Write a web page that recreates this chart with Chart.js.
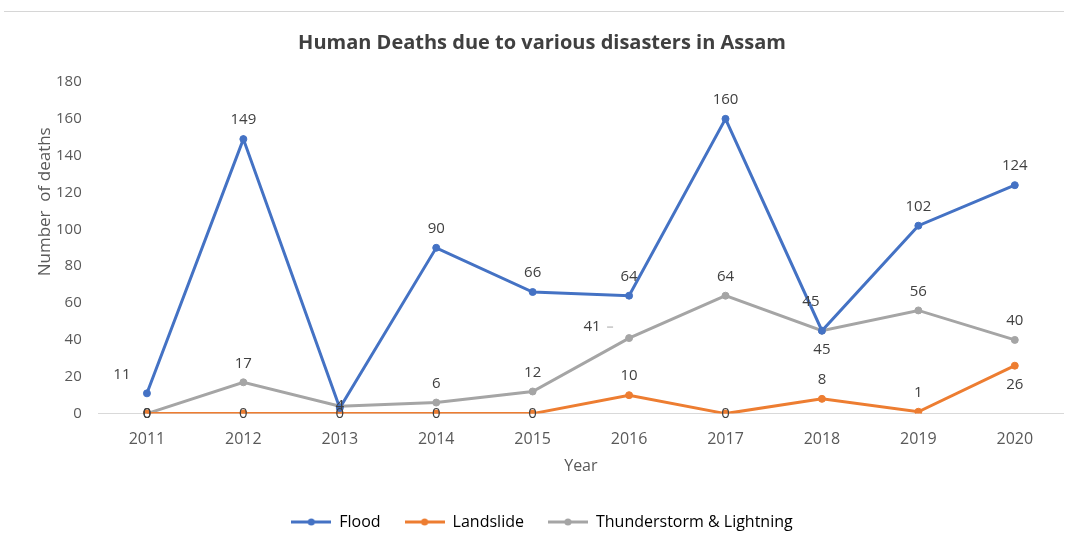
<!DOCTYPE html>
<html>
<head>
<meta charset="utf-8">
<script src="https://cdn.jsdelivr.net/npm/chart.js@4"></script>
<style>
  html, body { margin: 0; padding: 0; background: #fff; }
  #wrap { width: 1068px; height: 542px; position: relative; }
  #wrap:before { content: ''; position: absolute; left: 4px; right: 4px; top: 11px; border-top: 1px solid #d6d6d6; }
</style>
</head>
<body>
<div id="wrap"><canvas id="chart" width="1068" height="542"></canvas></div>
<script>
var years = ['2011', '2012', '2013', '2014', '2015', '2016', '2017', '2018', '2019', '2020'];
var flood = [11, 149, 3, 90, 66, 64, 160, 45, 102, 124];
var landslide = [0, 0, 0, 0, 0, 10, 0, 8, 1, 26];
var thunder = [0, 17, 4, 6, 12, 41, 64, 45, 56, 40];
var yTicks = [0, 20, 40, 60, 80, 100, 120, 140, 160, 180];

// where each value label sits relative to its point
var floodLabelPos = ['left', 'above', 'none', 'above', 'above', 'above', 'above', 'aboveLeft', 'above', 'above'];
var landLabelPos = ['center', 'center', 'center', 'center', 'center', 'above', 'center', 'above', 'above', 'below'];
var thunderLabelPos = ['center', 'above', 'center', 'above', 'above', 'farLeft', 'above', 'below', 'above', 'above'];

var FONT = '"Open Sans", "Noto Sans", sans-serif';

function legendIcon(color) {
    var c = document.createElement('canvas');
    c.width = 40; c.height = 10;
    var g = c.getContext('2d');
    g.strokeStyle = color; g.lineWidth = 3;
    g.beginPath(); g.moveTo(0, 5); g.lineTo(40, 5); g.stroke();
    g.fillStyle = color;
    g.beginPath(); g.arc(20, 5, 3.5, 0, Math.PI * 2); g.fill();
    return c;
}

var valueLabels = {
    id: 'valueLabels',
    afterDatasetsDraw: function (chart) {
        var ctx = chart.ctx;
        ctx.save();
        ctx.font = '15px ' + FONT;
        ctx.fillStyle = '#404040';
        ctx.textAlign = 'center';
        ctx.textBaseline = 'middle';
        chart.data.datasets.forEach(function (ds, i) {
            var meta = chart.getDatasetMeta(i);
            meta.data.forEach(function (pt, j) {
                var pos = ds.labelPos[j];
                if (pos === 'none') return;
                var x = pt.x, y = pt.y;
                if (pos === 'above') y -= 19;
                else if (pos === 'below') y += 19;
                else if (pos === 'aboveLeft') { x -= 11; y -= 29; }
                else if (pos === 'left') { x -= 25; y -= 19; }
                else if (pos === 'farLeft') {
                    x -= 37; y -= 11;
                    // small leader line like the original
                    ctx.strokeStyle = '#a6a6a6';
                    ctx.lineWidth = 1;
                    ctx.beginPath(); ctx.moveTo(x + 15, y); ctx.lineTo(x + 21, y); ctx.stroke();
                }
                ctx.fillText(String(ds.data[j]), x, y);
            });
        });
        ctx.restore();
    }
};

// y axis title, sitting a bit above the middle of the axis as in the original
var yTitle = {
    id: 'yTitle',
    afterDraw: function (chart) {
        var ctx = chart.ctx;
        var area = chart.chartArea;
        ctx.save();
        ctx.translate(45, (area.top + area.bottom) / 2 - 46);
        ctx.rotate(-Math.PI / 2);
        ctx.font = '17px ' + FONT;
        ctx.fillStyle = '#595959';
        ctx.textAlign = 'center';
        ctx.textBaseline = 'middle';
        ctx.fillText('Number  of deaths', 0, 0);
        ctx.restore();
    }
};

var ctx = document.getElementById('chart').getContext('2d');
var chart = new Chart(ctx, {
    type: 'line',
    data: {
        labels: years,
        datasets: [{
            label: 'Flood',
            data: flood,
            labelPos: floodLabelPos,
            borderColor: '#4472C4',
            backgroundColor: '#4472C4',
            borderWidth: 3,
            pointRadius: 3.5,
            pointBorderWidth: 1,
            tension: 0
        }, {
            label: 'Landslide',
            data: landslide,
            labelPos: landLabelPos,
            borderColor: '#ED7D31',
            backgroundColor: '#ED7D31',
            borderWidth: 3,
            pointRadius: 3.5,
            pointBorderWidth: 1,
            tension: 0
        }, {
            label: 'Thunderstorm & Lightning',
            data: thunder,
            labelPos: thunderLabelPos,
            borderColor: '#A5A5A5',
            backgroundColor: '#A5A5A5',
            borderWidth: 3,
            pointRadius: 3.5,
            pointBorderWidth: 1,
            tension: 0
        }]
    },
    options: {
        responsive: false,
        animation: false,
        layout: { padding: { left: 21, right: 5, top: 31, bottom: 2 } },
        plugins: {
            title: {
                display: true,
                text: 'Human Deaths due to various disasters in Assam',
                color: '#404040',
                font: { family: FONT, size: 20, weight: 'bold' },
                padding: { top: 0, bottom: 27 }
            },
            legend: {
                position: 'bottom',
                labels: {
                    color: '#595959',
                    font: { family: FONT, size: 16 },
                    usePointStyle: true,
                    pointStyleWidth: 40,
                    padding: 24,
                    generateLabels: function (chart) {
                        return chart.data.datasets.map(function (ds, i) {
                            return {
                                text: ds.label,
                                pointStyle: legendIcon(ds.borderColor),
                                fillStyle: ds.borderColor,
                                strokeStyle: ds.borderColor,
                                lineWidth: 0,
                                datasetIndex: i
                            };
                        });
                    }
                }
            },
            tooltip: { enabled: false }
        },
        scales: {
            x: {
                offset: true,
                grid: { display: false },
                border: { color: '#d9d9d9', width: 1 },
                ticks: { color: '#595959', font: { family: FONT, size: 16 }, padding: 8 },
                title: {
                    display: true,
                    text: 'Year',
                    color: '#595959',
                    font: { family: FONT, size: 16 },
                    padding: { top: 0, bottom: 14 }
                }
            },
            y: {
                min: 0,
                max: 180,
                afterBuildTicks: function (axis) {
                    axis.ticks = yTicks.map(function (v) { return { value: v }; });
                },
                // leave room for the hand-drawn axis title
                afterFit: function (axis) { axis.width += 26; },
                grid: { display: false },
                border: { display: false },
                ticks: { color: '#595959', font: { family: FONT, size: 15 }, padding: 9 }
            }
        }
    },
    plugins: [valueLabels, yTitle]
});
</script>
</body>
</html>
